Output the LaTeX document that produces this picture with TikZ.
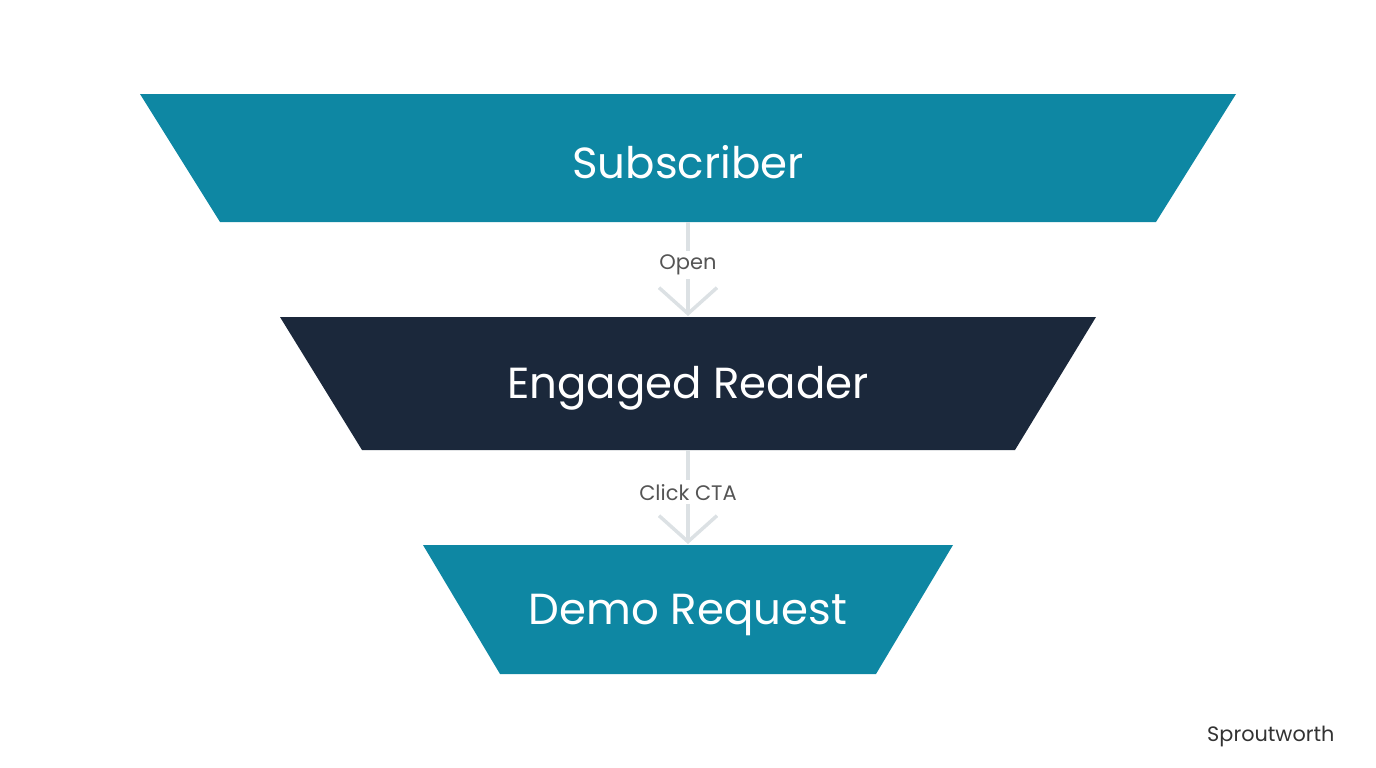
\documentclass[tikz,border=0pt]{standalone}
\usepackage{fontspec}
\setmainfont{Poppins}
\usetikzlibrary{arrows.meta}
\definecolor{teal}{HTML}{0E87A3}
\definecolor{navy}{HTML}{1B283B}
\definecolor{conn}{HTML}{DCE1E4}
\definecolor{lbl}{HTML}{555555}
\begin{document}
\begin{tikzpicture}[x=1pt,y=-1pt,
  stagetext/.style={text=white,font=\fontsize{43.5}{50}\selectfont},
  flowlabel/.style={fill=white,text=lbl,font=\fontsize{21}{24}\selectfont,inner sep=4pt},
  flow/.style={draw=conn,line width=3.5pt,-{Straight Barb[length=26pt,width=58pt,line width=3.5pt]}}]
\useasboundingbox (0,0) rectangle (1376,768);
% stages
\fill[teal] (140,94) -- (1236,94) -- (1156,222) -- (220,222) -- cycle;
\fill[navy] (280,317) -- (1096,317) -- (1015,450) -- (362,450) -- cycle;
\fill[teal] (423,545) -- (953,545) -- (876,674) -- (500,674) -- cycle;
\node[stagetext] (sub) at (688,162) {Subscriber};
\node[stagetext] (eng) at (688,388) {Engaged Reader};
\node[stagetext] (demo) at (688,615) {Demo Request};
\coordinate (subB) at (688,222);
\coordinate (engT) at (688,316);
\coordinate (engB) at (688,450);
\coordinate (demoT) at (688,544);
\draw[flow] (subB) -- node[flowlabel,pos=0.46] (l1) {Open} (engT);
\draw[flow] (engB) -- node[flowlabel,pos=0.45] (l2) {Click CTA} (demoT);
\node[text=black!80,font=\fontsize{20.8}{24}\selectfont,anchor=east] (brand) at (1338,737) {Sproutworth};
\end{tikzpicture}
\end{document}
